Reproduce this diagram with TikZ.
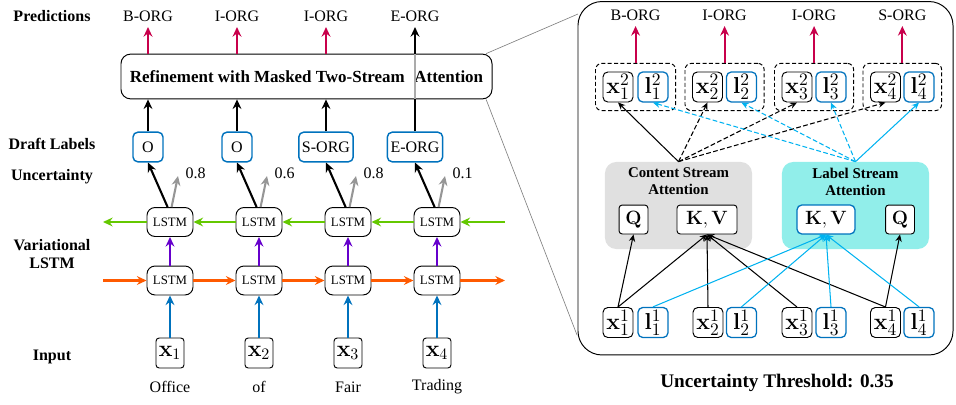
\documentclass[tikz,border=0pt]{standalone}
\usepackage[no-math]{fontspec}
\setmainfont{Liberation Serif}
\usetikzlibrary{arrows.meta,fit,calc}
\definecolor{cblue}{RGB}{0,114,189}
\definecolor{ccyan}{RGB}{0,178,240}
\definecolor{cred}{RGB}{200,0,75}
\definecolor{cgreen}{RGB}{100,200,0}
\definecolor{corange}{RGB}{255,90,0}
\definecolor{cpurple}{RGB}{102,0,204}
\definecolor{cgarrow}{RGB}{150,150,150}
\definecolor{cgrayfill}{RGB}{224,224,224}
\definecolor{ccyanfill}{RGB}{145,238,234}
\begin{document}
\begin{tikzpicture}[x=0.625pt,y=-0.625pt,
 every node/.style={font=\fontsize{10}{12}\selectfont},
 rowlab/.style={font=\bfseries\fontsize{10}{11.5}\selectfont, align=center},
 draftbox/.style={draw=cblue, line width=0.9pt, rounded corners=3pt, fill=white, minimum height=18.5pt, minimum width=18.75pt, inner sep=2pt},
 lstmbox/.style={draw, line width=0.6pt, rounded corners=5pt, fill=white, minimum width=28.75pt, minimum height=18.1pt, inner sep=1pt, font=\fontsize{8}{9}\selectfont},
 inbox/.style={draw, line width=0.6pt, rounded corners=2pt, fill=white, minimum width=17.5pt, minimum height=18.75pt, inner sep=0.5pt, font=\fontsize{14.5}{16}\selectfont},
 xnode/.style={draw, line width=0.6pt, rounded corners=3pt, fill=white, minimum width=18.75pt, minimum height=18.75pt, inner sep=0.5pt, font=\fontsize{15}{17}\selectfont},
 lnode/.style={xnode, draw=cblue, line width=0.8pt},
 mnode/.style={draw, line width=0.6pt, rounded corners=2pt, fill=white, minimum width=18.1pt, minimum height=18.1pt, inner sep=1pt, font=\fontsize{12.5}{14}\selectfont},
 grp/.style={draw, dashed, dash pattern=on 2.5pt off 1.5pt, line width=0.6pt, rounded corners=4pt, inner xsep=4.4pt, inner ysep=5pt},
 atttitle/.style={font=\bfseries\fontsize{9.3}{10.6}\selectfont, align=center},
 thk/.style={line width=1.3pt, -{Stealth[length=6pt,width=5.5pt,inset=2pt]}},
 thn/.style={line width=0.65pt, -{Stealth[length=4.5pt,width=4pt,inset=1.5pt]}},
 dsh/.style={dash pattern=on 3pt off 1.5pt},
]
\useasboundingbox (0,0) rectangle (956,405);

% ---------- left: row labels ----------
\node[rowlab] (lp) at (52,16) {Predictions};
\node[rowlab] (ld) at (52,144) {Draft Labels};
\node[rowlab] (lu) at (52,177) {Uncertainty};
\node[rowlab] (lv) at (52,254) {Variational\\LSTM};
\node[rowlab] (li) at (52,357) {Input};

% ---------- refinement box ----------
\node[draw, line width=0.6pt, rounded corners=6pt, minimum width=231.9pt, minimum height=28pt, inner sep=0pt,
      font=\bfseries\fontsize{10.6}{12}\selectfont] (ref) at (306.5,76.5)
      {Refinement with Masked Two-Stream\hspace{6pt}Attention};

% ---------- columns ----------
\node (p1) at (148,16) {B-ORG};
\node (p2) at (237,16) {I-ORG};
\node (p3) at (326,16) {I-ORG};
\node (p4) at (415,16) {E-ORG};

\node[draftbox] (d1) at (148,147) {O};
\node[draftbox] (d2) at (237,147) {O};
\node[draftbox] (d3) at (326,147) {S-ORG};
\node[draftbox] (d4) at (415,147) {E-ORG};

\node[lstmbox] (t1) at (170,222) {LSTM};
\node[lstmbox] (t2) at (259,222) {LSTM};
\node[lstmbox] (t3) at (348,222) {LSTM};
\node[lstmbox] (t4) at (437,222) {LSTM};

\node[lstmbox] (b1) at (170,280.5) {LSTM};
\node[lstmbox] (b2) at (259,280.5) {LSTM};
\node[lstmbox] (b3) at (348,280.5) {LSTM};
\node[lstmbox] (b4) at (437,280.5) {LSTM};

\node[inbox] (x1) at (170,353) {$\mathbf{x}_1$};
\node[inbox] (x2) at (259,353) {$\mathbf{x}_2$};
\node[inbox] (x3) at (348,353) {$\mathbf{x}_3$};
\node[inbox] (x4) at (437,353) {$\mathbf{x}_4$};

\node (w1) at (170,387) {Office};
\node (w2) at (259,387) {of};
\node (w3) at (348,387) {Fair};
\node (w4) at (437,387) {Trading};

\node[anchor=west] (u1) at (180,173) {0.8};
\node[anchor=west] (u2) at (269,173) {0.6};
\node[anchor=west] (u3) at (358,173) {0.8};
\node[anchor=west] (u4) at (447,173) {0.1};
\coordinate (ga1) at (178,176);
\coordinate (ga2) at (267,176);
\coordinate (ga3) at (356,176);
\coordinate (ga4) at (445,176);

\foreach \i in {1,...,4}{
  \draw[thk, cblue] (x\i.north) -- (b\i.south);
  \draw[thk, cpurple] (b\i.north) -- (t\i.south);
  \draw[thk] ([xshift=-1.5pt]t\i.north) -- (d\i.south);
  \draw[thk, cgarrow] ([xshift=1pt]t\i.north) -- (ga\i);
}
\foreach \i in {1,2,3}{
  \draw[thk] (d\i.north) -- (d\i.north |- ref.south);
  \draw[thk, cred] (ref.north -| p\i) -- (p\i.south);
}
\draw[thk] (d4.north) -- (p4.south);
\draw[line width=1.3pt, cgarrow!80, shorten <=0.5pt, shorten >=0.5pt] (ref.south -| d4) -- (ref.north -| d4);

% recurrent arrows
\coordinate (gr) at (505,222);
\coordinate (gl) at (103,222);
\coordinate (ol) at (103,280.5);
\coordinate (or) at (505,280.5);
\draw[thk, cgreen] (gr) -- (t4.east);
\draw[thk, cgreen] (t4.west) -- (t3.east);
\draw[thk, cgreen] (t3.west) -- (t2.east);
\draw[thk, cgreen] (t2.west) -- (t1.east);
\draw[thk, cgreen] (t1.west) -- (gl);
\draw[thk, corange] (ol) -- (b1.west);
\draw[thk, corange] (b1.east) -- (b2.west);
\draw[thk, corange] (b2.east) -- (b3.west);
\draw[thk, corange] (b3.east) -- (b4.west);
\draw[thk, corange] (b4.east) -- (or);

% ---------- right panel ----------
\node[draw, line width=0.6pt, rounded corners=15pt, minimum width=234.4pt, minimum height=220.9pt, inner sep=0pt] (panel) at (765.5,178.25) {};
\coordinate (zt) at (578,14);
\coordinate (zb) at (577,335);
\draw[gray, line width=0.4pt] ([xshift=-4pt]ref.north east) -- (zt);
\draw[gray, line width=0.4pt] ([xshift=-4pt]ref.south east) -- (zb);

% attention boxes
\node[fill=cgrayfill, rounded corners=7pt, minimum width=91.9pt, minimum height=54.4pt, inner sep=0pt] (csb) at (678.5,205.5) {};
\node[fill=ccyanfill, rounded corners=7pt, minimum width=91.9pt, minimum height=54.4pt, inner sep=0pt] (lsb) at (855.5,205.5) {};
\node[atttitle] (cst) at (678.5,181.5) {Content Stream\\Attention};
\node[atttitle] (lst) at (855.5,181.5) {Label Stream\\Attention};
\node[mnode] (qc) at (633.5,219.5) {$\mathbf{Q}$};
\node[mnode, minimum width=37.5pt] (kvc) at (707,219.5) {$\mathbf{K},\mathbf{V}$};
\node[mnode, draw=cblue, line width=0.8pt, rounded corners=3pt, minimum width=36.25pt] (kvl) at (826,219.5) {$\mathbf{K},\mathbf{V}$};
\node[mnode] (ql) at (900,219.5) {$\mathbf{Q}$};

% top row
\node[xnode] (x21) at (618,87) {$\mathbf{x}^2_1$};
\node[lnode] (l21) at (653,87) {$\mathbf{l}^2_1$};
\node[xnode] (x22) at (707.5,87) {$\mathbf{x}^2_2$};
\node[lnode] (l22) at (741.5,87) {$\mathbf{l}^2_2$};
\node[xnode] (x23) at (797,87) {$\mathbf{x}^2_3$};
\node[lnode] (l23) at (831,87) {$\mathbf{l}^2_3$};
\node[xnode] (x24) at (885.5,87) {$\mathbf{x}^2_4$};
\node[lnode] (l24) at (919,87) {$\mathbf{l}^2_4$};
\node[grp, fit=(x21)(l21)] (G1) {};
\node[grp, fit=(x22)(l22)] (G2) {};
\node[grp, fit=(x23)(l23)] (G3) {};
\node[grp, fit=(x24)(l24)] (G4) {};
\coordinate (ytop) at (0,15);
\node (rp1) at (G1.north |- ytop) {B-ORG};
\node (rp2) at (G2.north |- ytop) {I-ORG};
\node (rp3) at (G3.north |- ytop) {I-ORG};
\node (rp4) at (G4.north |- ytop) {S-ORG};
\foreach \i in {1,...,4}{
  \draw[thk, cred] (G\i.north) -- (rp\i.south);
}

% bottom row
\node[xnode] (x11) at (618,322.5) {$\mathbf{x}^1_1$};
\node[lnode] (l11) at (653,322.5) {$\mathbf{l}^1_1$};
\node[xnode] (x12) at (708,322.5) {$\mathbf{x}^1_2$};
\node[lnode] (l12) at (741.5,322.5) {$\mathbf{l}^1_2$};
\node[xnode] (x13) at (797,322.5) {$\mathbf{x}^1_3$};
\node[lnode] (l13) at (831,322.5) {$\mathbf{l}^1_3$};
\node[xnode] (x14) at (885.5,322.5) {$\mathbf{x}^1_4$};
\node[lnode] (l14) at (919,322.5) {$\mathbf{l}^1_4$};

% attention to top row
\draw[thn] (csb.north) -- (x21.south);
\draw[thn, dsh] (csb.north) -- (x22.south);
\draw[thn, dsh] (csb.north) -- (x23.south);
\draw[thn, dsh] (csb.north) -- (x24.south);
\draw[thn, ccyan, dsh] (lsb.north) -- (l21.south);
\draw[thn, ccyan, dsh] (lsb.north) -- (l22.south);
\draw[thn, ccyan, dsh] (lsb.north) -- (l23.south);
\draw[thn, ccyan] (lsb.north) -- (l24.south);

% bottom row to attention
\draw[thn] (x11.north) -- (qc.south);
\draw[thn] (x11.north) -- (kvc.south);
\draw[thn] (x12.north) -- (kvc.south);
\draw[thn] (x13.north) -- (kvc.south);
\draw[thn] (x14.north) -- (kvc.south);
\draw[thn] (x14.north) -- (ql.south);
\draw[thn, ccyan] (l11.north) -- (kvl.south);
\draw[thn, ccyan] (l12.north) -- (kvl.south);
\draw[thn, ccyan] (l13.north) -- (kvl.south);
\draw[thn, ccyan] (l14.north) -- (kvl.south);

\node[font=\bfseries\fontsize{12}{14}\selectfont] (thr) at (777,383) {Uncertainty Threshold: 0.35};
\end{tikzpicture}
\end{document}
